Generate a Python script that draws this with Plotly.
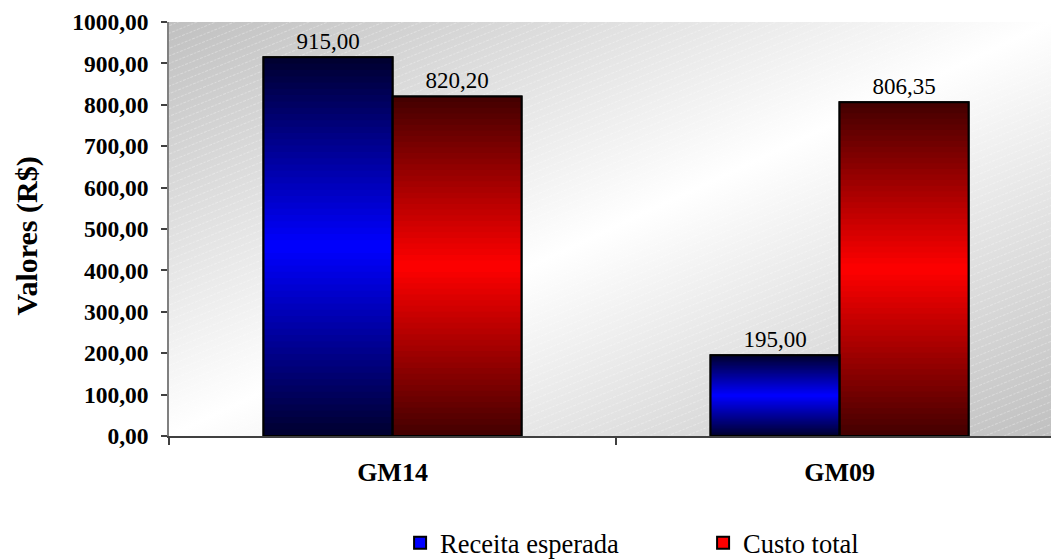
import base64
import plotly.graph_objects as go

# ---- data ----
categories = ["GM14", "GM09"]
receita_esperada = [915.00, 195.00]
custo_total = [820.20, 806.35]
series_names = ["Receita esperada", "Custo total"]
y_tick_values = [0, 100, 200, 300, 400, 500, 600, 700, 800, 900, 1000]
y_title = "Valores (R$)"

# ---- style ----
FONT = "Liberation Serif, Times New Roman, Times, serif"
W, H = 1051, 559
ML, MR, MT, MB = 169, 0, 22, 123
PW, PH = W - ML - MR, H - MT - MB
N_SEG = 60
styles = [
    {"center": (0, 0, 255), "edge": (0, 0, 46), "solid": "#0000ff"},
    {"center": (255, 0, 0), "edge": (66, 0, 0), "solid": "#ff0000"},
]


def seg_color(i, st):
    t = (i + 0.5) / N_SEG
    d = abs(t - 0.5) * 2
    c = [round(st["center"][k] * (1 - d) + st["edge"][k] * d) for k in range(3)]
    return f"rgb({c[0]},{c[1]},{c[2]})"


fig = go.Figure()
series_values = [receita_esperada, custo_total]

# legend traces (solid), drawn underneath
for name, vals, st in zip(series_names, series_values, styles):
    fig.add_trace(go.Bar(
        x=categories, y=vals, name=name, offsetgroup=name,
        marker=dict(color=st["solid"], line=dict(color="black", width=2)),
        hoverinfo="skip",
    ))

# gradient: nested rectangles from the bar base, tallest first
for name, vals, st in zip(series_names, series_values, styles):
    for i in reversed(range(N_SEG)):
        fig.add_trace(go.Bar(
            x=categories,
            y=[v * (i + 1) / N_SEG for v in vals],
            offsetgroup=name, showlegend=False,
            marker=dict(color=seg_color(i, st), line=dict(width=0)),
            hoverinfo="skip",
        ))

# outlines + labels
for name, vals in zip(series_names, series_values):
    fig.add_trace(go.Bar(
        x=categories, y=vals, offsetgroup=name, showlegend=False,
        marker=dict(color="rgba(0,0,0,0)", line=dict(color="black", width=2)),
        texttemplate="%{y:.2f}", textposition="outside",
        textfont=dict(family=FONT, size=23, color="black"),
        cliponaxis=False, name=name,
    ))

svg = f'''<svg xmlns="http://www.w3.org/2000/svg" width="{PW}" height="{PH}" viewBox="0 0 {PW} {PH}" preserveAspectRatio="none">
<defs>
<linearGradient id="g" x1="0" y1="0" x2="1" y2="1">
<stop offset="0" stop-color="#c0c0c0"/><stop offset="0.5" stop-color="#ffffff"/><stop offset="1" stop-color="#c0c0c0"/>
</linearGradient>
<pattern id="p" width="8" height="7" patternUnits="userSpaceOnUse" patternTransform="rotate(-22)">
<line x1="0" y1="3.5" x2="8" y2="3.5" stroke="#ffffff" stroke-width="0.8" stroke-dasharray="2,1.5" stroke-opacity="0.4"/>
</pattern>
</defs>
<rect x="0" y="0" width="{PW}" height="{PH}" fill="url(#g)"/>
<rect x="0" y="0" width="{PW}" height="{PH}" fill="url(#p)"/>
</svg>'''
src = "data:image/svg+xml;base64," + base64.b64encode(svg.encode()).decode()

fig.update_layout(
    width=W, height=H,
    margin=dict(l=ML, r=MR, t=MT, b=MB, pad=0, autoexpand=False),
    paper_bgcolor="white", plot_bgcolor="rgba(0,0,0,0)",
    separators=",.",
    barmode="group", bargap=0.4228, bargroupgap=0,
    font=dict(family=FONT, color="black"),
    images=[dict(source=src, xref="paper", yref="paper", x=0, y=1,
                 sizex=1, sizey=1, sizing="stretch", layer="below")],
    showlegend=True,
    legend=dict(orientation="h", x=0.262, xanchor="left",
                y=-(543 - 436) / PH, yanchor="middle",
                font=dict(family=FONT, size=26.5, color="black"),
                entrywidth=258, traceorder="normal", bgcolor="rgba(0,0,0,0)"),
    annotations=[dict(text=y_title, xref="paper", yref="paper",
                      x=-143 / PW, y=(435.5 - 236) / PH, xanchor="center", yanchor="middle",
                      textangle=-90, showarrow=False,
                      font=dict(family=FONT, size=30, color="black", weight="bold"))],
)
fig.update_yaxes(
    range=[0, 1000], tickvals=y_tick_values, tickformat=".2f",
    showline=True, linecolor="#808080", linewidth=1.5,
    ticks="outside", ticklen=6, tickcolor="#404040", tickwidth=1.5,
    tickfont=dict(family=FONT, size=23.5, color="black", weight="bold"),
    ticklabelstandoff=8, automargin=False,
    showgrid=False, zeroline=False,
)
fig.update_xaxes(
    type="category", range=[-0.5, 1.473],
    showline=True, linecolor="#404040", linewidth=1.5,
    ticks="outside", tickson="boundaries", ticklen=7, tickcolor="#404040", tickwidth=1.5,
    tickfont=dict(family=FONT, size=26, color="black", weight="bold"),
    ticklabelstandoff=12, automargin=False,
    showgrid=False, zeroline=False,
)

fig.write_html("out.html")
